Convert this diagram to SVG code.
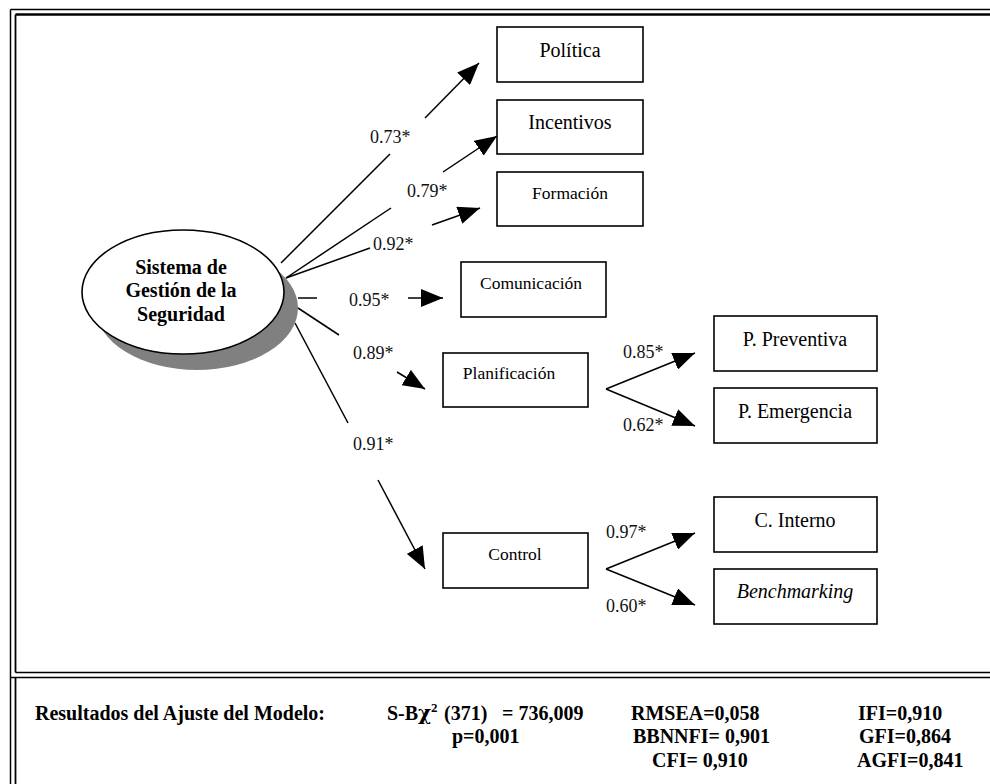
<svg xmlns="http://www.w3.org/2000/svg" width="990" height="784" viewBox="0 0 990 784">
<style>
.box{fill:#fff;stroke:#000;stroke-width:1.6}
.t20{font-family:"Liberation Serif","Times New Roman",serif;font-size:20px;fill:#000;text-anchor:middle}
.t17{font-family:"Liberation Serif","Times New Roman",serif;font-size:17.5px;fill:#000;text-anchor:middle}
.lbl{font-family:"Liberation Serif","Times New Roman",serif;font-size:18px;fill:#111}
.bold{font-family:"Liberation Serif","Times New Roman",serif;font-size:20px;font-weight:bold;fill:#000}
.ln{stroke:#000;stroke-width:1.5;fill:none}
.arr{stroke:#000;stroke-width:1.5;fill:none;marker-end:url(#ah)}
.frame{stroke:#000;fill:none}
</style>
<defs>
<marker id="ah" viewBox="0 0 22 18" refX="22" refY="9" markerWidth="22" markerHeight="18" markerUnits="userSpaceOnUse" orient="auto">
<path d="M0,0 L22,9 L0,18 Z" fill="#000"/>
</marker>
</defs>
<rect width="990" height="784" fill="#fff"/>
<g id="frame">
<line class="frame" x1="10.5" y1="9.5" x2="995" y2="9.5" stroke-width="1.5"/>
<line class="frame" x1="10.5" y1="9.5" x2="10.5" y2="784" stroke-width="1.5"/>
<line class="frame" x1="15.5" y1="14.5" x2="995" y2="14.5" stroke-width="2.4"/>
<line class="frame" x1="15.5" y1="14.5" x2="15.5" y2="672.5" stroke-width="1.8"/>
<line class="frame" x1="15.5" y1="672.5" x2="995" y2="672.5" stroke-width="1.6"/>
<line class="frame" x1="10.5" y1="677.5" x2="995" y2="677.5" stroke-width="1.6"/>
<line class="frame" x1="15.5" y1="677.5" x2="15.5" y2="784" stroke-width="1.8"/>
</g>
<g id="connectors">
<line class="ln" x1="281" y1="263" x2="390" y2="154"/>
<line class="arr" x1="425" y1="118" x2="479" y2="63"/>
<line class="ln" x1="286" y1="278" x2="391" y2="208"/>
<line class="arr" x1="443" y1="172" x2="497" y2="136"/>
<line class="ln" x1="286" y1="278" x2="370" y2="248"/>
<line class="arr" x1="432" y1="225" x2="480" y2="208"/>
<line class="ln" x1="298" y1="298" x2="317" y2="298"/>
<line class="arr" x1="408" y1="298" x2="443" y2="298"/>
<line class="ln" x1="298" y1="308" x2="339" y2="335"/>
<line class="arr" x1="397" y1="372" x2="425" y2="389"/>
<line class="ln" x1="295" y1="323" x2="348" y2="423"/>
<line class="arr" x1="378" y1="480" x2="425" y2="569"/>
<line class="arr" x1="606" y1="389" x2="695" y2="353"/>
<line class="arr" x1="606" y1="389" x2="695" y2="426"/>
<line class="arr" x1="606" y1="569" x2="695" y2="533"/>
<line class="arr" x1="606" y1="569" x2="695" y2="605"/>
<text class="lbl" x="370" y="143">0.73*</text>
<text class="lbl" x="407" y="197">0.79*</text>
<text class="lbl" x="373" y="250">0.92*</text>
<text class="lbl" x="349" y="306">0.95*</text>
<text class="lbl" x="353" y="359">0.89*</text>
<text class="lbl" x="353" y="450">0.91*</text>
<text class="lbl" x="623" y="358">0.85*</text>
<text class="lbl" x="623" y="431">0.62*</text>
<text class="lbl" x="606" y="538">0.97*</text>
<text class="lbl" x="606" y="612">0.60*</text>
</g>
<g id="sgs">
<ellipse cx="197" cy="308" rx="101" ry="62" fill="#808080"/>
<ellipse cx="183" cy="292" rx="101" ry="62" fill="#fff" stroke="#000" stroke-width="1.6"/>
<text class="bold" x="181" y="274" text-anchor="middle">Sistema de</text>
<text class="bold" x="181" y="297" text-anchor="middle">Gestión de la</text>
<text class="bold" x="181" y="321" text-anchor="middle">Seguridad</text>
</g>
<g id="politica"><rect class="box" x="497" y="27" width="146" height="55"/><text class="t20" x="570" y="57">Política</text></g>
<g id="incentivos"><rect class="box" x="497" y="100" width="146" height="54"/><text class="t20" x="570" y="129">Incentivos</text></g>
<g id="formacion"><rect class="box" x="497" y="172" width="146" height="54"/><text class="t17" x="570" y="199">Formación</text></g>
<g id="comunicacion"><rect class="box" x="461" y="262" width="145" height="55"/><text class="t17" x="531" y="289">Comunicación</text></g>
<g id="planificacion"><rect class="box" x="443" y="353" width="145" height="54"/><text class="t17" x="509" y="379">Planificación</text></g>
<g id="control"><rect class="box" x="443" y="533" width="145" height="55"/><text class="t17" x="515" y="560">Control</text></g>
<g id="ppreventiva"><rect class="box" x="714" y="316" width="163" height="55"/><text class="t20" x="795" y="346">P. Preventiva</text></g>
<g id="pemergencia"><rect class="box" x="714" y="388" width="163" height="55"/><text class="t20" x="795" y="418">P. Emergencia</text></g>
<g id="cinterno"><rect class="box" x="714" y="497" width="163" height="55"/><text class="t20" x="795" y="527">C. Interno</text></g>
<g id="benchmarking"><rect class="box" x="714" y="569" width="163" height="55"/><text class="t20" x="795" y="598" font-style="italic">Benchmarking</text></g>
<g id="fit">
<text class="bold" x="35" y="720">Resultados del Ajuste del Modelo:</text>
<text class="bold" x="387" y="720">S-B<tspan x="418" font-family="'DejaVu Serif',serif">χ</tspan><tspan font-size="13" x="431" dy="-8">2</tspan><tspan x="444" dy="8">(371)</tspan><tspan x="502">= 736,009</tspan></text>
<text class="bold" x="452" y="743">p=0,001</text>
<text class="bold" x="631" y="720">RMSEA=0,058</text>
<text class="bold" x="633" y="743">BBNNFI= 0,901</text>
<text class="bold" x="652" y="767">CFI= 0,910</text>
<text class="bold" x="858" y="720">IFI=0,910</text>
<text class="bold" x="859" y="743">GFI=0,864</text>
<text class="bold" x="857" y="767">AGFI=0,841</text>
</g>
</svg>
